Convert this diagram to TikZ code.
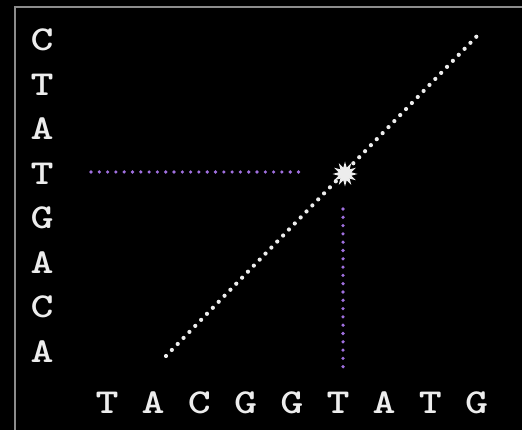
\documentclass[tikz,border=0pt]{standalone}
\usepackage{fontspec}
\usetikzlibrary{positioning,calc,shapes.geometric}
\definecolor{frame}{HTML}{8C8C8C}
\definecolor{base}{HTML}{EDEDED}
\definecolor{hit}{HTML}{A070E0}
\newcommand{\wide}[1]{\scalebox{1.25}[1]{#1}}
\tikzset{letter/.style={text=base,font=\ttfamily\bfseries\fontsize{35}{35}\selectfont,inner sep=0pt},diag/.style={base,line width=4.2pt,line cap=round,dash pattern=on 0pt off 8.4pt},guide/.style={hit,line width=3.6pt,line cap=round,dash pattern=on 0pt off 8.3pt},burst/.style={star,star points=12,star point ratio=1.9,fill=base,minimum size=25pt,inner sep=0pt}}

\begin{document}
\begin{tikzpicture}[x=1pt,y=-1pt]
\fill[black] (0,0) rectangle (522,430);
\useasboundingbox (0,0) rectangle (522,430);
\draw[frame,line width=2pt] (15,430) -- (15,7) -- (522,7);
% sequence down the side
\foreach \b [count=\i] in {C,T,A,T,G,A,C,A}
\node[letter] (s\i) at (42,{40+44.5*(\i-1)}) {\wide{\b}};
% sequence along the bottom
\foreach \b [count=\i] in {T,A,C,G,G,T,A,T,G}
\node[letter] (t\i) at ({107+46.2*(\i-1)},403) {\wide{\b}};
\coordinate (lo) at (166,356);
\coordinate (hi) at (478,35);
\draw[diag] (lo) -- (hi);
\node[burst] (m) at (345,174) {};
\coordinate (hl) at (91,172);
\coordinate (hr) at (300,172);
\coordinate (vt) at (343,209);
\coordinate (vb) at (343,368);
\draw[guide] (hl) -- (hr);
\draw[guide] (vt) -- (vb);
\end{tikzpicture}
\end{document}
